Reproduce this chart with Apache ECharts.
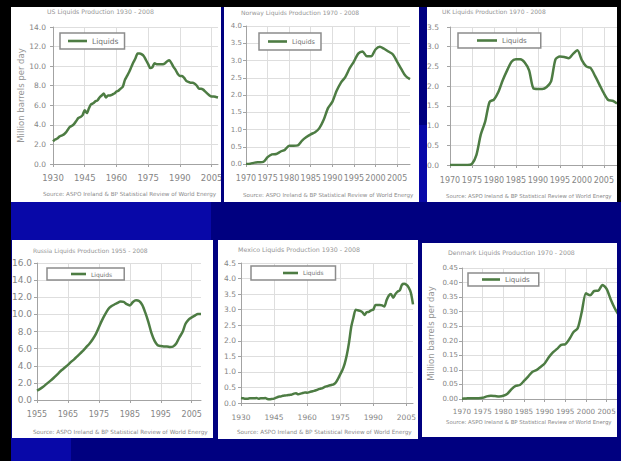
<!DOCTYPE html>
<html><head><meta charset="utf-8">
<script src="https://cdn.jsdelivr.net/npm/echarts@6/dist/echarts.min.js"></script>
<style>html,body{margin:0;padding:0;background:#000080;overflow:hidden}#c{width:621px;height:461px}</style>
</head><body><div id="c"></div>
<script>
function yearRange(a, b) { const r = []; for (let y = a; y <= b; y++) r.push(String(y)); return r; }

// ---------- DATA ----------
const SERIES_NAME = 'Liquids';
const SOURCE = 'Source: ASPO Ireland & BP Statistical Review of World Energy';
const Y_NAME = 'Million barrels per day';

const usTitle = 'US Liquids Production 1930 - 2008';
const usYears = yearRange(1930, 2008);
const usValues = [2.3,2.5,2.6,2.8,2.9,3.0,3.2,3.5,3.8,3.9,
  4.1,4.4,4.7,4.8,5.0,5.5,5.2,5.7,6.1,6.2,
  6.4,6.5,6.8,7.0,7.2,6.8,7.0,7.0,7.1,7.2,
  7.4,7.5,7.7,7.9,8.6,9.0,9.4,9.9,10.4,10.8,
  11.3,11.3,11.2,11.0,10.6,10.2,9.8,9.9,10.3,10.2,
  10.2,10.2,10.2,10.3,10.5,10.6,10.3,9.9,9.6,9.2,
  9.0,9.0,8.8,8.5,8.4,8.3,8.3,8.2,8.0,7.7,
  7.7,7.6,7.4,7.2,7.0,6.9,6.9,6.85,6.8];

const norwayTitle = 'Norway Liquids Production 1970 - 2008';
const norwayYears = yearRange(1970, 2008);
const norwayValues = [0.0,0.01,0.04,0.05,0.06,0.20,0.28,0.29,0.36,0.41,
  0.53,0.53,0.54,0.68,0.78,0.86,0.92,1.04,1.28,1.62,
  1.80,2.12,2.36,2.52,2.77,2.97,3.20,3.26,3.12,3.12,
  3.32,3.40,3.34,3.26,3.18,2.97,2.75,2.55,2.46];

const ukTitle = 'UK Liquids Production 1970 - 2008';
const ukYears = yearRange(1970, 2008);
const ukValues = [0,0,0,0,0,0.03,0.25,0.77,1.10,1.60,
  1.66,1.85,2.15,2.40,2.62,2.68,2.68,2.60,2.40,1.94,
  1.93,1.93,1.98,2.12,2.68,2.75,2.74,2.71,2.82,2.91,
  2.66,2.50,2.46,2.26,2.04,1.82,1.65,1.63,1.56];

const russiaTitle = 'Russia Liquids Production 1955 - 2008';
const russiaYears = yearRange(1955, 2008);
const russiaValues = [1.1,1.3,1.55,1.85,2.15,
  2.45,2.8,3.15,3.5,3.8,4.1,4.45,4.75,5.1,5.45,
  5.8,6.2,6.6,7.1,7.7,8.5,9.3,10.0,10.6,10.95,
  11.15,11.35,11.5,11.45,11.2,11.05,11.45,11.65,11.55,11.1,
  10.2,9.1,7.8,6.9,6.4,6.3,6.25,6.25,6.2,6.25,
  6.6,7.3,7.9,8.9,9.4,9.65,9.85,10.05,10.05];

const mexicoTitle = 'Mexico Liquids Production 1930 - 2008';
const mexicoYears = yearRange(1930, 2008);
const mexicoValues = [0.16,0.15,0.14,0.14,0.15,0.15,0.15,0.16,0.14,0.15,
  0.15,0.16,0.13,0.12,0.13,0.14,0.17,0.20,0.21,0.23,
  0.24,0.25,0.26,0.27,0.30,0.31,0.28,0.30,0.32,0.34,
  0.33,0.35,0.37,0.39,0.41,0.44,0.46,0.48,0.52,0.54,
  0.56,0.58,0.60,0.66,0.78,0.92,1.06,1.26,1.55,1.95,
  2.45,2.75,3.0,2.98,2.96,2.92,2.83,2.92,2.93,2.98,
  3.0,3.15,3.15,3.15,3.14,3.10,3.30,3.45,3.50,3.38,
  3.50,3.58,3.62,3.80,3.83,3.80,3.72,3.55,3.17];

const denmarkTitle = 'Denmark Liquids Production 1970 - 2008';
const denmarkYears = yearRange(1970, 2008);
const denmarkValues = [0.001,0.002,0.003,0.003,0.003,0.004,0.009,0.011,0.010,0.009,
  0.011,0.018,0.034,0.045,0.048,0.062,0.077,0.093,0.099,0.110,
  0.122,0.143,0.160,0.172,0.186,0.188,0.206,0.230,0.243,0.300,
  0.363,0.356,0.371,0.372,0.392,0.378,0.342,0.311,0.287];

// ---------- LAYOUT / STYLE ----------
const FONT = 'DejaVu Sans';
const LINE = '#4d7c43';
const panels = [
  { title: usTitle, years: usYears, values: usValues, max: 14, step: 2, dec: 1, every: 15,
    box: [11, 7, 210, 195], grid: { left: 53, top: 27, width: 165, height: 137 },
    t: [47, 12, 6.2], s: [43, 194, 5.65],
    lg: { left: 60, top: 33, pad: [4, 6, 4, 8], iw: 19, fs: 7.5 },
    xl: { fs: 8.5, m: 9 }, yl: { fs: 7.5, m: 7 }, yName: { gap: 28, fs: 8.5 } },
  { title: norwayTitle, years: norwayYears, values: norwayValues, max: 4, step: 0.5, dec: 1, every: 5,
    box: [224, 7, 195, 195], grid: { left: 246, top: 26, width: 164, height: 138 },
    t: [241, 13, 6], s: [243, 195, 5.55],
    lg: { left: 259, top: 33, pad: [5, 6, 5, 9], iw: 19, fs: 6.5 },
    xl: { fs: 8, m: 10 }, yl: { fs: 7, m: 4 } },
  { title: ukTitle, years: ukYears, values: ukValues, max: 3.5, step: 0.5, dec: 1, every: 5,
    box: [427, 7, 190, 195], grid: { left: 450, top: 27, width: 167, height: 138 },
    t: [442, 12, 6], s: [446, 197, 5.4],
    lg: { left: 458, top: 33, pad: [4, 14, 4, 19], iw: 20, fs: 7 },
    xl: { fs: 8, m: 11 }, yl: { fs: 7.5, m: 11 } },
  { title: russiaTitle, years: russiaYears, values: russiaValues, max: 16, step: 2, dec: 1, every: 10,
    box: [12, 240, 201, 198], grid: { left: 37, top: 263, width: 164, height: 137 },
    t: [33, 251, 6], s: [33, 432, 5.7],
    lg: { left: 47, top: 268, pad: [3, 12, 3, 24], iw: 15, fs: 6 },
    xl: { fs: 8, m: 10 }, yl: { fs: 9, m: 5 } },
  { title: mexicoTitle, years: mexicoYears, values: mexicoValues, max: 4.5, step: 0.5, dec: 1, every: 15,
    box: [218, 240, 200, 199], grid: { left: 241, top: 263, width: 172, height: 140 },
    t: [238, 250, 6.3], s: [237, 432, 5.7],
    lg: { left: 251, top: 266, pad: [4, 12, 4, 32], iw: 15, fs: 5.8 },
    xl: { fs: 7.5, m: 10 }, yl: { fs: 7.5, m: 5 } },
  { title: denmarkTitle, years: denmarkYears, values: denmarkValues, max: 0.45, step: 0.05, dec: 2, every: 5,
    box: [422, 243, 195, 194], grid: { left: 462, top: 268, width: 157, height: 131 },
    t: [448, 253, 6.2], s: [446, 423, 5.4],
    lg: { left: 468, top: 273, pad: [3, 9, 3, 14], iw: 18, fs: 7 },
    xl: { fs: 7.2, m: 9 }, yl: { fs: 7, m: 4 }, yName: { gap: 27, fs: 8.5 } }
];

const AXIS = '#a3a3a3', GRIDC = '#dedede', LABEL = '#858585', TITLEC = '#959595';

const graphics = [];
graphics.push({ type: 'rect', z: -20, shape: { x: 11, y: 202, width: 200, height: 38 }, style: { fill: '#0808a8' } });
graphics.push({ type: 'rect', z: -20, shape: { x: 11, y: 438, width: 60, height: 23 }, style: { fill: '#0808a8' } });
graphics.push({ type: 'rect', z: -20, shape: { x: 419, y: 125, width: 8, height: 77 }, style: { fill: '#0808a8' } });
panels.forEach(p => {
  graphics.push({ type: 'rect', z: -10, shape: { x: p.box[0], y: p.box[1], width: p.box[2], height: p.box[3] }, style: { fill: '#ffffff' } });
});
const over = [
  [0, 0, 621, 7, '#000000'], [0, 0, 11, 461, '#000000'], [617, 0, 4, 202, '#000000'],
  [221, 7, 3, 195, '#000080'], [419, 7, 8, 118, '#000080'], [617, 202, 4, 259, '#000080'],
  [213, 240, 5, 199, '#000080'], [418, 240, 4, 199, '#000080']
];
over.forEach(o => graphics.push({ type: 'rect', z: 100, shape: { x: o[0], y: o[1], width: o[2], height: o[3] }, style: { fill: o[4] } }));

const option = {
  backgroundColor: '#000080',
  animation: false,
  textStyle: { fontFamily: FONT },
  graphic: { elements: graphics },
  title: panels.flatMap(p => [
    { text: p.title, left: p.t[0], top: p.t[1] - p.t[2] * 0.6, padding: 0,
      textStyle: { fontSize: p.t[2], fontWeight: 'normal', color: TITLEC, fontFamily: FONT } },
    { text: SOURCE, left: p.s[0], top: p.s[1] - p.s[2] * 0.6, padding: 0,
      textStyle: { fontSize: p.s[2], fontWeight: 'normal', color: '#8a8a8a', fontFamily: FONT } }
  ]),
  legend: panels.map(p => ({
    data: [{ name: SERIES_NAME, icon: 'rect' }], left: p.lg.left, top: p.lg.top, padding: p.lg.pad,
    borderColor: '#8c8c8c', borderWidth: 1.5, backgroundColor: '#ffffff',
    itemWidth: p.lg.iw, itemHeight: 2.6, selectedMode: false,
    itemStyle: { color: LINE },
    textStyle: { fontSize: p.lg.fs, color: '#707070', fontFamily: FONT }
  })),
  grid: panels.map(p => Object.assign({ containLabel: false }, p.grid)),
  xAxis: panels.map((p, i) => ({
    type: 'category', gridIndex: i, data: p.years, boundaryGap: false,
    axisLine: { lineStyle: { color: AXIS, width: 1 } },
    axisTick: { show: true, interval: p.every - 1, length: 3, lineStyle: { color: AXIS } },
    axisLabel: { interval: p.every - 1, fontSize: p.xl.fs, color: LABEL, margin: p.xl.m, fontFamily: FONT },
    splitLine: { show: true, interval: p.every - 1, lineStyle: { color: GRIDC, width: 1 } }
  })),
  yAxis: panels.map((p, i) => ({
    type: 'value', gridIndex: i, min: 0, max: p.max, interval: p.step,
    name: p.yName ? Y_NAME : '', nameLocation: 'middle', nameGap: p.yName ? p.yName.gap : 0,
    nameTextStyle: { fontSize: p.yName ? p.yName.fs : 8, color: TITLEC, fontFamily: FONT },
    axisLine: { show: true, lineStyle: { color: AXIS, width: 1 } },
    axisTick: { show: true, length: 3, lineStyle: { color: AXIS } },
    axisLabel: { fontSize: p.yl.fs, color: LABEL, margin: p.yl.m, fontFamily: FONT,
      formatter: v => v.toFixed(p.dec) },
    splitLine: { show: true, lineStyle: { color: GRIDC, width: 1 } }
  })),
  series: panels.map((p, i) => ({
    type: 'line', name: SERIES_NAME, xAxisIndex: i, yAxisIndex: i, data: p.values,
    symbol: 'none', smooth: 0.25, lineStyle: { color: LINE, width: 2.5 }, itemStyle: { color: LINE }
  }))
};

const chart = echarts.init(document.getElementById('c'), null, { renderer: 'svg', width: 621, height: 461 });
chart.setOption(option);
</script>
</body></html>
